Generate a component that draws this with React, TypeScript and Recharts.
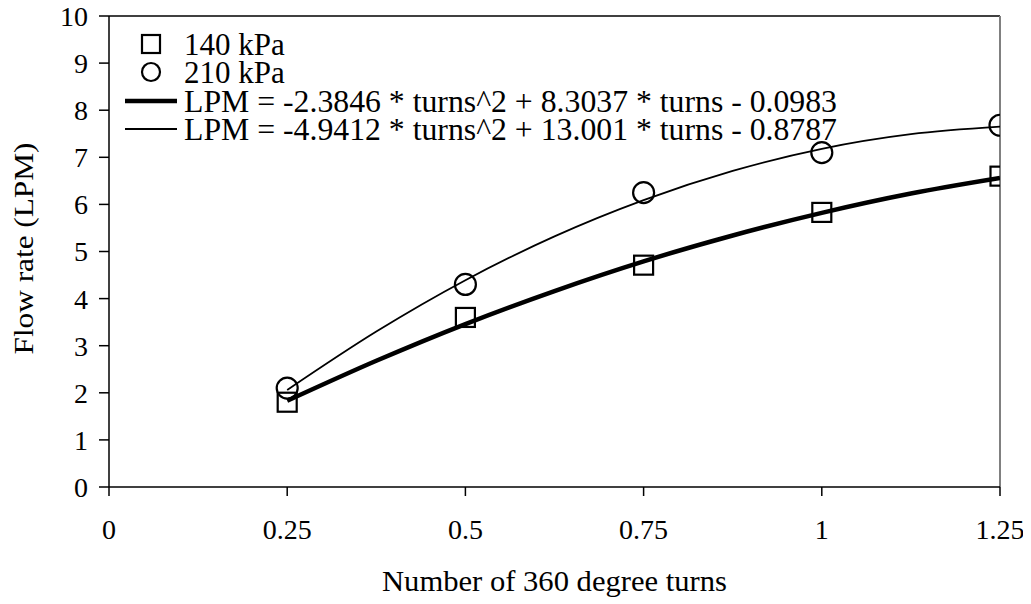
import {
  ComposedChart,
  Line,
  Scatter,
  XAxis,
  YAxis,
  Legend,
  ReferenceLine,
  Label,
} from "recharts";

// measured points
const turns = [0.25, 0.5, 0.75, 1, 1.25];
const flow140 = [1.8, 3.6, 4.71, 5.83, 6.6];
const flow210 = [2.1, 4.3, 6.25, 7.1, 7.68];

// trend curves
const fitTurns = [0.25, 0.375, 0.5, 0.625, 0.75, 0.875, 1, 1.125, 1.25];
const fit140 = [1.83, 2.68, 3.46, 4.16, 4.79, 5.34, 5.82, 6.23, 6.56];
const fit210 = [2.06, 3.3, 4.39, 5.32, 6.09, 6.71, 7.18, 7.49, 7.65];

const xTicks = [0, 0.25, 0.5, 0.75, 1, 1.25];
const yTicks = [0, 1, 2, 3, 4, 5, 6, 7, 8, 9, 10];

const legendLabels = [
  "140 kPa",
  "210 kPa",
  "LPM = -2.3846 * turns^2 + 8.3037 * turns - 0.0983",
  "LPM = -4.9412 * turns^2 + 13.001 * turns - 0.8787",
];

const FONT = "'Liberation Serif', 'Times New Roman', serif";

const pts140 = turns.map((t, i) => ({ x: t, y: flow140[i] }));
const pts210 = turns.map((t, i) => ({ x: t, y: flow210[i] }));
const curve140 = fitTurns.map((t, i) => ({ x: t, y: fit140[i] }));
const curve210 = fitTurns.map((t, i) => ({ x: t, y: fit210[i] }));

const Square = (p: any) => (
  <rect
    x={p.cx - 9.5}
    y={p.cy - 9.5}
    width={19}
    height={19}
    fill="none"
    stroke="#000"
    strokeWidth={2.2}
  />
);

const Circle = (p: any) => (
  <circle cx={p.cx} cy={p.cy} r={10.5} fill="none" stroke="#000" strokeWidth={2.2} />
);

function LegendBox() {
  const rowY = [14, 42, 71, 99];
  return (
    <svg width={760} height={116} style={{ display: "block" }}>
      <rect x={18} y={rowY[0] - 9} width={18} height={18} fill="none" stroke="#000" strokeWidth={2.2} />
      <circle cx={27} cy={rowY[1]} r={9} fill="none" stroke="#000" strokeWidth={2.2} />
      <line x1={1} x2={53} y1={rowY[2]} y2={rowY[2]} stroke="#000" strokeWidth={4.5} />
      <line x1={1} x2={53} y1={rowY[3]} y2={rowY[3]} stroke="#000" strokeWidth={1.8} />
      {legendLabels.map((s, i) => (
        <text
          key={s}
          x={60}
          y={rowY[i] + 10.5}
          fontSize={31}
          fontFamily={FONT}
          fill="#000"
          textLength={i < 2 ? undefined : 653}
          lengthAdjust="spacingAndGlyphs"
        >
          {s}
        </text>
      ))}
    </svg>
  );
}

export default function App() {
  const tick = { fill: "#000", fontSize: 28, fontFamily: FONT };
  return (
    <div style={{ width: 1023, height: 596, background: "#fff", position: "relative" }}>
      <ComposedChart
        width={1023}
        height={596}
        margin={{ top: 8, right: 31, bottom: 0, left: 0 }}
      >
        <XAxis
          dataKey="x"
          type="number"
          domain={[0, 1.25]}
          ticks={xTicks}
          interval={0}
          tick={tick}
          tickSize={9}
          tickMargin={23}
          height={117}
          axisLine={{ stroke: "#000", strokeWidth: 1.5 }}
          tickLine={{ stroke: "#000", strokeWidth: 1.5 }}
          allowDataOverflow
        >
          <Label
            content={(p: any) => {
              const vb = p.viewBox || { x: 101, width: 891 };
              return (
                <text
                  x={vb.x + vb.width / 2}
                  y={583}
                  textAnchor="middle"
                  fontSize={29}
                  fontFamily={FONT}
                  fill="#000"
                  textLength={345}
                  lengthAdjust="spacingAndGlyphs"
                >
                  Number of 360 degree turns
                </text>
              );
            }}
          />
        </XAxis>
        <YAxis
          type="number"
          domain={[0, 10]}
          ticks={yTicks}
          interval={0}
          tick={tick}
          tickSize={10}
          tickMargin={11}
          width={101}
          axisLine={{ stroke: "#000", strokeWidth: 1.5 }}
          tickLine={{ stroke: "#000", strokeWidth: 1.5 }}
          allowDataOverflow
        >
          <Label
            content={(p: any) => {
              const vb = p.viewBox || { y: 8, height: 471 };
              const cy = vb.y + vb.height / 2 - 3;
              return (
                <text
                  x={25}
                  y={cy}
                  transform={`rotate(-90 25 ${cy})`}
                  textAnchor="middle"
                  fontSize={28}
                  fontFamily={FONT}
                  fill="#000"
                  textLength={212}
                  lengthAdjust="spacingAndGlyphs"
                >
                  Flow rate (LPM)
                </text>
              );
            }}
          />
        </YAxis>
        <ReferenceLine y={10} stroke="#000" strokeWidth={1.5} />
        <ReferenceLine x={1.25} stroke="#808080" strokeWidth={2} />
        <Legend
          layout="horizontal"
          verticalAlign="middle"
          align="center"
          wrapperStyle={{ left: 116, top: 22, width: 760 }}
          content={() => <LegendBox />}
        />
        <Line
          data={curve140}
          dataKey="y"
          type="monotone"
          stroke="#000"
          strokeWidth={4.5}
          dot={false}
          activeDot={false}
          isAnimationActive={false}
          legendType="none"
        />
        <Line
          data={curve210}
          dataKey="y"
          type="monotone"
          stroke="#000"
          strokeWidth={1.8}
          dot={false}
          activeDot={false}
          isAnimationActive={false}
          legendType="none"
        />
        <Scatter
          data={pts140}
          dataKey="y"
          shape={Square}
          isAnimationActive={false}
          legendType="none"
        />
        <Scatter
          data={pts210}
          dataKey="y"
          shape={Circle}
          isAnimationActive={false}
          legendType="none"
        />
      </ComposedChart>
    </div>
  );
}
